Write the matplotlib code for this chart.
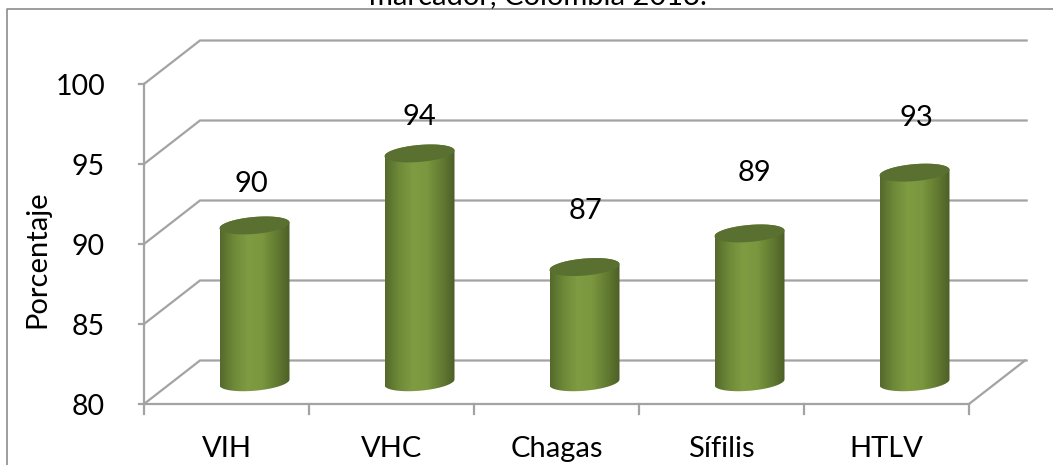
import numpy as np
import matplotlib
matplotlib.use("Agg")
import matplotlib.pyplot as plt
from matplotlib.colors import LinearSegmentedColormap
from matplotlib.patches import Polygon

categories = ['VIH', 'VHC', 'Chagas', 'Sífilis', 'HTLV']
bar_values = [89.8, 94.3, 87.2, 89.3, 93.1]
bar_labels = ['90', '94', '87', '89', '93']
y_ticks = [80, 85, 90, 95, 100]

W, H = 1053, 465
# where the front plane of the fake 3d box sits, in pixels
left, right, top, bottom = 144, 969, 84, 404
px_x = (right - left) / len(categories)
px_y = (bottom - top) / (y_ticks[-1] - y_ticks[0])
depth_x = 56 / px_x    # category units
depth_y = 43.5 / px_y  # value units
half_w = 35 / px_x
half_h = 8.5 / px_y
slope = 0.85  # tilt of the ellipses, value per category
grid_col = '#a3a3a3'

# labels were placed by hand in the original chart
label_dx = [0.148, 0.167, 0.173, 0.203, 0.179]
label_y = [93.76, 97.92, 92.07, 94.42, 97.88]

plt.rcParams['font.family'] = ['Lato', 'DejaVu Sans']

fig = plt.figure(figsize=(W / 100, H / 100), dpi=100)
ax = fig.add_axes([left / W, 1 - bottom / H, (right - left) / W, (bottom - top) / H])
ax.axis('off')

# gridlines on wall and floor
for v in y_ticks:
    ax.plot([0, depth_x, 5 + depth_x + 0.01], [v, v + depth_y, v + depth_y],
            color=grid_col, lw=1.6, clip_on=False, zorder=1, solid_joinstyle='miter')
ax.plot([5, 5 + depth_x], [80, 80 + depth_y], color=grid_col, lw=1.6, clip_on=False, zorder=1)
# axes lines and ticks
ax.plot([0, 0], [80, 100], color=grid_col, lw=1.6, clip_on=False, zorder=1)
ax.plot([0, 5], [80, 80], color=grid_col, lw=1.6, clip_on=False, zorder=1)
for v in y_ticks:
    ax.plot([-0.03, 0], [v, v], color=grid_col, lw=1.6, clip_on=False, zorder=1)
    ax.text(-0.236, v - 0.18, str(v), ha='right', va='center', fontsize=20.5, color='black')
for i in range(len(categories) + 1):
    ax.plot([i, i], [80, 79.4], color=grid_col, lw=1.6, clip_on=False, zorder=1)

cmap = LinearSegmentedColormap.from_list('cyl', ['#55692c', '#6e8a38', '#7f9c42', '#7b973f', '#647d32', '#4d5f27'])
grad = np.linspace(0, 1, 256).reshape(1, -1)
t = np.linspace(0, np.pi, 60)

for i, val in enumerate(bar_values):
    cx = i + 0.5 + depth_x / 2
    y_top = val + depth_y / 2
    y_bot = 80 + depth_y / 2

    # lower arc of the base, then upper arc of the top
    low_x = cx + half_w * np.cos(np.pi + t)
    low_y = y_bot + half_h * np.sin(np.pi + t) + slope * (low_x - cx)
    up_x = cx + half_w * np.cos(t)
    up_y = y_top + half_h * np.sin(t) + slope * (up_x - cx)
    body = Polygon(np.column_stack([np.r_[low_x, up_x], np.r_[low_y, up_y]]),
                   closed=True, transform=ax.transData, fc='none', ec='none')
    ax.add_patch(body)
    im = ax.imshow(grad, extent=[cx - half_w, cx + half_w, 79, 100], aspect='auto',
                   cmap=cmap, zorder=3)
    im.set_clip_path(body)

    cap_x = cx + half_w * np.cos(2 * t)
    cap_y = y_top + half_h * np.sin(2 * t) + slope * (cap_x - cx)
    ax.fill(cap_x, cap_y, color='#5a7030', lw=0, zorder=4)

    ax.text(i + 0.5 + label_dx[i], label_y[i], bar_labels[i], ha='center', va='center',
            fontsize=21, color='black', zorder=5)

# imshow resets the limits
ax.set_xlim(0, len(categories))
ax.set_ylim(y_ticks[0], y_ticks[-1])

for i, c in enumerate(categories):
    fig.text((left + px_x * (i + 0.5)) / W, 1 - 449 / H, c, ha='center', va='center', fontsize=21, color='black')

fig.text(37 / W, 1 - 259 / H, 'Porcentaje', rotation=90, ha='center', va='center', fontsize=21, color='black')
fig.text(538 / W, 1 - 4 / H, 'marcador, Colombia 2013.', ha='center', va='baseline', fontsize=21, color='black')

# chart frame, only left and top are inside the picture
fig.add_artist(plt.Line2D([7 / W, 7 / W, 1], [0, 1 - 9.5 / H, 1 - 9.5 / H], color='#8c8c8c', lw=1.2))

fig.savefig('out.png', dpi=100)
